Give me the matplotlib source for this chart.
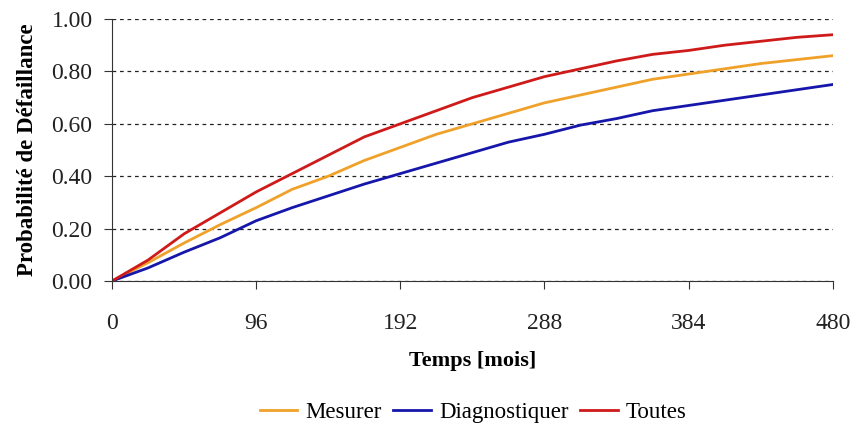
import matplotlib
matplotlib.use('Agg')
import matplotlib.pyplot as plt

plt.rcParams['font.family'] = ['Liberation Serif', 'DejaVu Serif']

months = [0, 24, 48, 72, 96, 120, 144, 168, 192, 216, 240,
          264, 288, 312, 336, 360, 384, 408, 432, 456, 480]
mesurer = [0, 0.07, 0.145, 0.215, 0.28, 0.35, 0.40, 0.46, 0.51, 0.56, 0.60,
           0.64, 0.68, 0.71, 0.74, 0.77, 0.79, 0.81, 0.83, 0.845, 0.86]
diagnostiquer = [0, 0.05, 0.11, 0.165, 0.23, 0.28, 0.325, 0.37, 0.41, 0.45, 0.49,
                 0.53, 0.56, 0.595, 0.62, 0.65, 0.67, 0.69, 0.71, 0.73, 0.75]
toutes = [0, 0.08, 0.18, 0.26, 0.34, 0.41, 0.48, 0.55, 0.60, 0.65, 0.70,
          0.74, 0.78, 0.81, 0.84, 0.865, 0.88, 0.90, 0.915, 0.93, 0.94]

fig = plt.figure(figsize=(8.51, 4.32), dpi=100)
ax = fig.add_axes([0.1316, 0.3495, 0.847, 0.6065])

ax.plot(months, mesurer, color='#EFA12A', linewidth=2, label='Mesurer')
ax.plot(months, diagnostiquer, color='#1616AA', linewidth=2, label='Diagnostiquer')
ax.plot(months, toutes, color='#CF1A1A', linewidth=2, label='Toutes')

ax.set_xlim(0, 480)
ax.set_ylim(0, 1)
ax.set_xticks([0, 96, 192, 288, 384, 480])
ax.set_yticks([0, 0.2, 0.4, 0.6, 0.8, 1.0])
ax.set_yticklabels(['%.2f' % v for v in ax.get_yticks()])
ax.yaxis.grid(True, color='#222222', linestyle=(0, (3, 3)), linewidth=0.9)
ax.set_axisbelow(True)

for s in ['top', 'right']:
    ax.spines[s].set_visible(False)
ax.spines['left'].set_color('#333333')
ax.spines['bottom'].set_color('#333333')
ax.tick_params(axis='both', labelsize=17, length=6, color='#333333', labelcolor='#222222')
ax.tick_params(axis='x', pad=17)
ax.tick_params(axis='y', pad=8)

ax.set_xlabel('Temps [mois]', fontsize=16, fontweight='bold', labelpad=12)
ax.set_ylabel('Probabilité de Défaillance', fontsize=16.5, fontweight='bold', labelpad=10)

fig.legend(loc='center', bbox_to_anchor=(0.556, 0.046), ncol=3, frameon=False,
           fontsize=16.5, handlelength=1.65, handletextpad=0.35, columnspacing=0.5)

fig.savefig('out.png', dpi=100)
